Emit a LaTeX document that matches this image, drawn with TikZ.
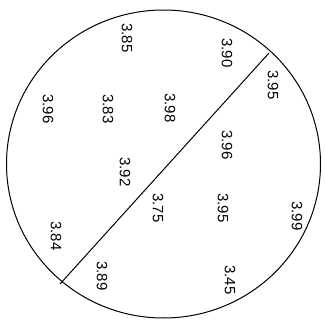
\documentclass[tikz,border=0pt]{standalone}
\usepackage{fontspec}
\setmainfont{Liberation Sans}
\usepackage{tikz}

\tikzset{val/.style={rotate=-90,inner sep=0pt,font=\fontsize{15}{15}\selectfont}}

\begin{document}
\begin{tikzpicture}[x=1pt,y=-1pt]
    \useasboundingbox (0,0) rectangle (325,322);
    \draw[line width=1pt] (163.5,164) ellipse (157 and 154);
    %\draw[step=10,gray] (0,0) grid (325,322);
    \coordinate (p) at (269,53);
    \coordinate (q) at (60,284);
    \draw[line width=1pt] (p) -- (q);

    \node[val] (v385) at (127,38) {3.85};
    \node[val] (v390) at (227,53) {3.90};
    \node[val] (v395a) at (273,85) {3.95};
    \node[val] (v396a) at (48,109) {3.96};
    \node[val] (v383) at (108,109) {3.83};
    \node[val] (v398) at (170,108) {3.98};
    \node[val] (v396b) at (227,145) {3.96};
    \node[val] (v392) at (125,172) {3.92};
    \node[val] (v375) at (158,208) {3.75};
    \node[val] (v395b) at (223,208) {3.95};
    \node[val] (v399) at (297,216) {3.99};
    \node[val] (v384) at (56,236) {3.84};
    \node[val] (v389) at (102,276) {3.89};
    \node[val] (v345) at (230,280) {3.45};
\end{tikzpicture}
\end{document}
